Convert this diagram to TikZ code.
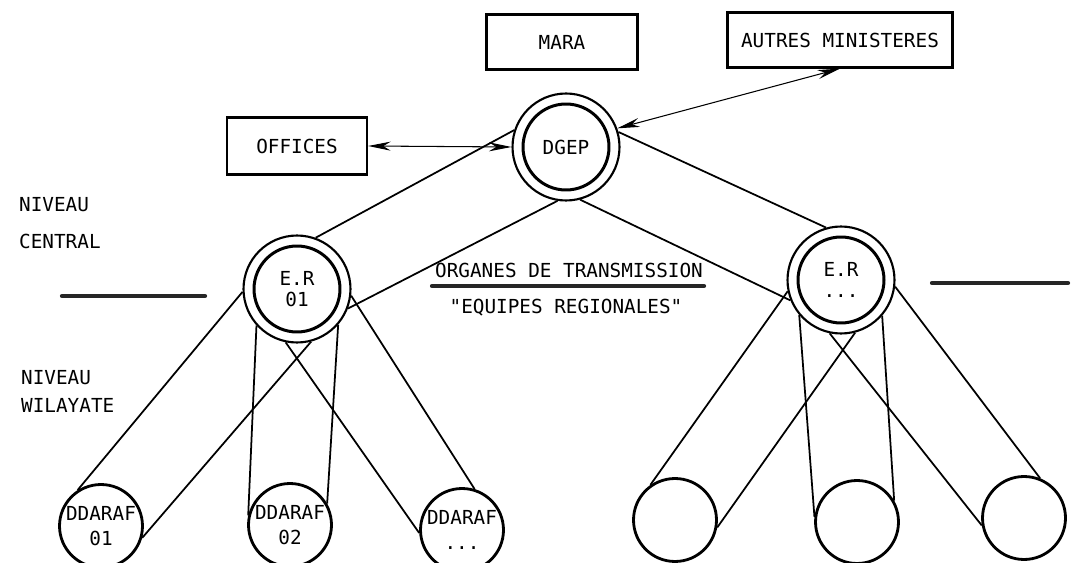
\documentclass[tikz,border=0pt]{standalone}
\usepackage{fontspec}
\setmonofont{DejaVu Sans Mono}
\usetikzlibrary{arrows.meta}

\begin{document}
\begin{tikzpicture}[x=0.02cm,y=-0.02cm,
  every node/.style={font=\ttfamily\fontsize{11}{12}\selectfont},
  box/.style={draw,line width=1.3pt,minimum height=1.1cm,inner sep=0pt},
  hub/.style={draw,circle,line width=1.2pt,minimum size=2.14cm,inner sep=0pt,align=center},
  leaf/.style={draw,circle,line width=1.6pt,minimum size=1.66cm,inner sep=0pt,align=center,
    font=\ttfamily\fontsize{11}{14}\selectfont},
  link/.style={line width=1pt},
  flow/.style={line width=0.6pt,{Stealth[length=4.5mm,width=1.8mm]}-{Stealth[length=4.5mm,width=1.8mm]}},
  smear/.style={line width=2.4pt,line cap=round,black!85},
  side/.style={anchor=west}]

\useasboundingbox (0,0) rectangle (1071,563);

% boites du haut
\node[box,minimum width=3.02cm] (mara) at (562,42) {MARA};
\node[box,minimum width=4.5cm] (autres) at (840,40) {AUTRES MINISTERES};
\node[box,minimum width=2.8cm,minimum height=1.14cm] (offices) at (297,146) {OFFICES};

% cercles doubles
\node[hub] (dgep) at (566,147) {DGEP};
\node[hub] (er1) at (297,289) {E.R\\01};
\node[hub] (er2) at (841,280) {E.R\\...};
\foreach \n in {dgep,er1,er2}
  \draw[line width=1.7pt] (\n.center) circle (0.86cm);

% directions wilayate
\node[leaf] (d1) at (101,526) {DDARAF\\01};
\node[leaf] (d2) at (290,525) {DDARAF\\02};
\node[leaf] (d3) at (462,530) {DDARAF\\...};
\node[leaf] (w1) at (675,520) {};
\node[leaf] (w2) at (857,522) {};
\node[leaf] (w3) at (1024,518) {};

% liaisons
\draw[link] (dgep.162) -- (er1.70);
\draw[link] (dgep.261) -- (er1.339);
\draw[link] (dgep.16) -- (er2.106);
\draw[link] (dgep.285) -- (er2.202);
\foreach \e/\l/\p/\q in {er1/d1/183/123, er1/d1/285/344, er1/d2/222/167, er1/d2/319/30,
    er1/d3/353/73, er1/d3/258/184, er2/w1/192/125, er2/w1/285/350, er2/w2/220/173,
    er2/w2/319/30, er2/w3/353/68, er2/w3/258/190}
  \draw[link] (\e.\p) -- (\l.\q);

\draw[flow] (offices.east) -- (dgep.west);
\draw[flow] (autres.south) -- (dgep.20);

% niveaux
\node[side] (nivc) at (13,205) {NIVEAU};
\node[side] (cent) at (13,241) {CENTRAL};
\node[side] (nivw) at (15,378) {NIVEAU};
\node[side] (wil) at (15,405) {WILAYATE};

\node (org) at (569,270) {ORGANES DE TRANSMISSION};
\node (eq) at (566,308) {"EQUIPES REGIONALES"};

\draw[smear] (62,296) -- (205,296);
\draw[smear] (932,283) -- (1068,283);
\draw[smear] (432,286) -- (704,286);
\end{tikzpicture}
\end{document}
